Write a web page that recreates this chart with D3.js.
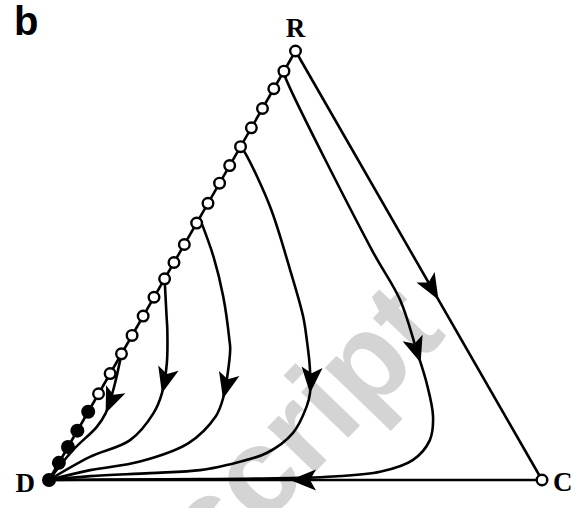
<!DOCTYPE html>
<style>
body { margin: 0; background: #fff; }
</style>
<svg width="579" height="508"></svg>
<script src="https://d3js.org/d3.v7.min.js"></script>
<script>

// vertex labels of the simplex
var vertexNames = ["R", "D", "C"];

// fixed points on the D-R edge, as the share of R (1 = R, 0 = D)
var openPts = [1.0, 0.953, 0.912, 0.866, 0.821, 0.777, 0.733, 0.692, 0.645, 0.599,
               0.549, 0.507, 0.469, 0.426, 0.382, 0.337, 0.294, 0.248, 0.201];
var filledPts = [0.159, 0.115, 0.077, 0.040, 0.0];

// trajectories, each point is [r, c] (d = 1 - r - c)
var trajA = [[0.953, 0], [0.940, 0.009], [0.536, 0.387], [0.420, 0.502], [0.303, 0.594],
             [0.226, 0.653], [0.148, 0.705], [0.093, 0.726], [0.047, 0.715], [0.019, 0.662],
             [0.008, 0.572], [0.005, 0.507], [0.002, 0.305], [0.001, 0.103], [0, 0]];
var trajB = [[0.777, 0], [0.762, 0.017], [0.637, 0.130], [0.490, 0.244], [0.381, 0.325],
             [0.326, 0.360], [0.264, 0.397], [0.203, 0.428], [0.171, 0.437], [0.110, 0.440],
             [0.063, 0.410], [0.035, 0.343], [0.023, 0.295], [0.016, 0.197], [0.009, 0.079], [0, 0]];
var trajC = [[0.611, 0], [0.521, 0.073], [0.427, 0.140], [0.326, 0.203], [0.303, 0.216],
             [0.190, 0.258], [0.148, 0.264], [0.086, 0.240], [0.043, 0.163],
             [0.023, 0.072], [0, 0]];
var trajD = [[0.469, 0], [0.381, 0.048], [0.350, 0.065], [0.272, 0.103], [0.202, 0.128],
             [0.156, 0.134], [0.093, 0.118], [0.054, 0.056], [0, 0]];
var trajE = [[0.294, 0], [0.215, 0.024], [0.156, 0.037], [0.124, 0.035], [0.070, 0.014], [0, 0]];
var edgeRC = [[1, 0], [0, 1]];
var edgeCD = [[0, 1], [0, 0]];
var edgeDR = [[0, 0], [1, 0]];

// arrow tips, one per flow line
var flows = [
  {pts: edgeRC, tip: [0.420, 0.580]},
  {pts: trajA, tip: [0.272, 0.613]},
  {pts: trajB, tip: [0.202, 0.428]},
  {pts: trajC, tip: [0.190, 0.258]},
  {pts: trajD, tip: [0.202, 0.127]},
  {pts: trajE, tip: [0.156, 0.037]},
  {pts: edgeCD, tip: [0, 0.489]}
];

var svg = d3.select("svg");

// u along base (D -> C), v up to R
var x = d3.scaleLinear().domain([0, 1]).range([49, 542]);
var y = d3.scaleLinear().domain([0, 1]).range([480, 51]);
function px(p) { return x(p[1] + p[0] / 2); }
function py(p) { return y(p[0]); }

// watermark behind everything
svg.append("text")
    .attr("transform", "translate(213,578) rotate(-46)")
    .attr("font-family", "Liberation Sans, Arial, sans-serif")
    .attr("font-weight", "bold")
    .attr("font-size", 124)
    .attr("fill", "#d4d4d4")
    .text("script");

var line = d3.line().x(px).y(py).curve(d3.curveCatmullRom.alpha(0.5));

var g = svg.append("g")
    .attr("fill", "none")
    .attr("stroke", "#000")
    .attr("stroke-width", 2.6)
    .attr("stroke-linejoin", "round");

g.append("path").attr("d", line(edgeDR));

flows.forEach(function(f) {
  var path = g.append("path").attr("d", line(f.pts));
  var node = path.node(), len = node.getTotalLength();
  var tx = px(f.tip), ty = py(f.tip), best = 0, bd = Infinity;
  for (var l = 0; l <= len; l += 0.5) {
    var q = node.getPointAtLength(l), dd = (q.x - tx) * (q.x - tx) + (q.y - ty) * (q.y - ty);
    if (dd < bd) { bd = dd; best = l; }
  }
  var p1 = node.getPointAtLength(Math.max(0, best - 5)), p2 = node.getPointAtLength(best);
  var ang = Math.atan2(p2.y - p1.y, p2.x - p1.x) * 180 / Math.PI;
  svg.append("path")
      .attr("transform", "translate(" + p2.x + "," + p2.y + ") rotate(" + ang + ")")
      .attr("d", "M0,0L-26,-10.5L-20,0L-26,10.5Z")
      .attr("fill", "#000");
});

// fixed points
svg.append("g").selectAll("circle")
    .data(openPts.map(function(r) { return [r, 0]; }).concat([[0, 1]]))
    .enter().append("circle")
      .attr("cx", px).attr("cy", py)
      .attr("r", 5.3)
      .attr("fill", "#fff")
      .attr("stroke", "#000")
      .attr("stroke-width", 2.4);

svg.append("g").selectAll("circle")
    .data(filledPts.map(function(r) { return [r, 0]; }))
    .enter().append("circle")
      .attr("cx", px).attr("cy", py)
      .attr("r", 7)
      .attr("fill", "#000");

// vertex labels
var lab = svg.append("g")
    .attr("font-family", "Liberation Serif, Times New Roman, serif")
    .attr("font-weight", "bold")
    .attr("font-size", 27);
lab.append("text").attr("x", px([1, 0])).attr("y", 37).attr("text-anchor", "middle").text(vertexNames[0]);
lab.append("text").attr("x", 35).attr("y", 492).attr("text-anchor", "end").text(vertexNames[1]);
lab.append("text").attr("x", 553).attr("y", 491).attr("text-anchor", "start").text(vertexNames[2]);

svg.append("text")
    .attr("x", 14).attr("y", 35)
    .attr("font-family", "Liberation Sans, Arial, sans-serif")
    .attr("font-weight", "bold")
    .attr("font-size", 40)
    .text("b");

</script>
